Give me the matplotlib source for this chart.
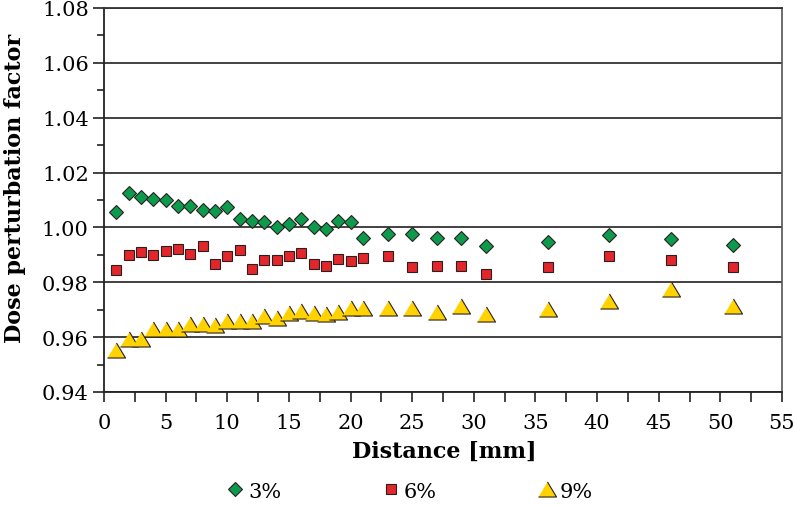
import matplotlib.pyplot as plt
from matplotlib.ticker import MultipleLocator

# distances [mm]
distance = [1, 2, 3, 4, 5, 6, 7, 8, 9, 10, 11, 12, 13, 14, 15, 16, 17, 18, 19, 20, 21,
            23, 25, 27, 29, 31, 36, 41, 46, 51]

# dose perturbation factor for each concentration
dpf_3 = [1.0056, 1.0124, 1.0110, 1.0102, 1.0101, 1.0077, 1.0077, 1.0065, 1.0059, 1.0074,
         1.0029, 1.0023, 1.0020, 1.0002, 1.0011, 1.0032, 1.0000, 0.9996, 1.0024, 1.0020,
         0.9962, 0.9975, 0.9975, 0.9963, 0.9963, 0.9934, 0.9946, 0.9972, 0.9957, 0.9936]
dpf_6 = [0.9843, 0.9900, 0.9912, 0.9900, 0.9915, 0.9922, 0.9904, 0.9934, 0.9867, 0.9897,
         0.9918, 0.9850, 0.9880, 0.9880, 0.9897, 0.9906, 0.9868, 0.9861, 0.9885, 0.9876,
         0.9888, 0.9897, 0.9856, 0.9861, 0.9858, 0.9832, 0.9856, 0.9897, 0.9882, 0.9856]
dpf_9 = [0.9553, 0.9592, 0.9592, 0.9631, 0.9631, 0.9628, 0.9649, 0.9649, 0.9646, 0.9660,
         0.9660, 0.9660, 0.9676, 0.9670, 0.9688, 0.9696, 0.9688, 0.9685, 0.9693, 0.9706,
         0.9706, 0.9705, 0.9705, 0.9693, 0.9714, 0.9685, 0.9703, 0.9732, 0.9774, 0.9714]
labels = ["3%", "6%", "9%"]

plt.rcParams['font.family'] = ['DejaVu Serif']

fig = plt.figure(figsize=(7.95, 5.06), dpi=100)
ax = fig.add_axes([104/795, 1-393/506, 678/795, 384/506])

edge = '#2b2020'
tri = [(-1.2, -1), (1.2, -1), (0, 1)]  # wide triangle
ax.plot(distance, dpf_3, linestyle='none', marker='D', markersize=7.6, color='#0c9a4c',
        markeredgecolor=edge, markeredgewidth=0.8, label=labels[0], zorder=3)
ax.plot(distance, dpf_6, linestyle='none', marker='s', markersize=7.6, color='#e3262b',
        markeredgecolor=edge, markeredgewidth=0.8, label=labels[1], zorder=3)
ax.plot(distance, dpf_9, linestyle='none', marker=tri, markersize=13, color='#ffd200',
        markeredgecolor=edge, markeredgewidth=0.8, label=labels[2], zorder=3)

ax.set_xlim(0, 55)
ax.set_ylim(0.94, 1.08)
ax.xaxis.set_major_locator(MultipleLocator(5))
ax.xaxis.set_minor_locator(MultipleLocator(2.5))
ax.yaxis.set_major_locator(MultipleLocator(0.02))
ax.yaxis.set_minor_locator(MultipleLocator(0.01))
ax.yaxis.set_major_formatter(lambda v, p: f"{v:.2f}")

ax.grid(axis='y', which='major', color='#333333', linewidth=1.3, zorder=1)
ax.set_axisbelow(True)
for s in ['left', 'bottom']:
    ax.spines[s].set_linewidth(1.3)
    ax.spines[s].set_color('#222222')
ax.spines['top'].set_linewidth(1.3)
ax.spines['top'].set_color('#333333')
ax.spines['right'].set_linewidth(1.2)
ax.spines['right'].set_color('#555555')

ax.tick_params(axis='both', which='both', direction='out', width=1.2, color='#222222',
               labelsize=15)
ax.tick_params(axis='x', which='both', length=7, pad=8)
ax.tick_params(axis='y', which='major', length=8, pad=3)
ax.tick_params(axis='y', which='minor', length=5)

fig.text(15/795, 1-188/506, "Dose perturbation factor", rotation=90, ha='center',
         va='center', fontsize=16, fontweight='bold')
fig.text(444/795, 1-452/506, "Distance [mm]", ha='center', va='center',
         fontsize=16, fontweight='bold')

fig.legend(loc='center', bbox_to_anchor=(410/795, 1-492/506), ncol=3, frameon=False,
           fontsize=15, handlelength=0.8, handletextpad=0.2, columnspacing=4.9)

fig.savefig('out.png', dpi=100)
